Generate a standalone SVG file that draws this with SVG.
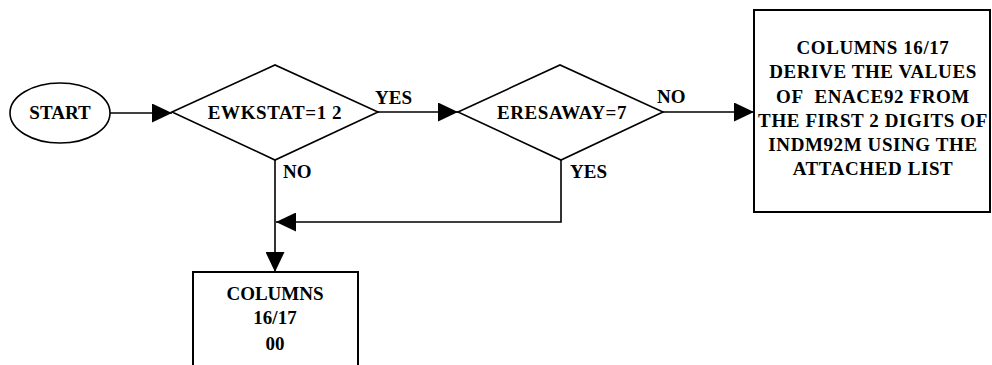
<svg xmlns="http://www.w3.org/2000/svg" width="992" height="365" viewBox="0 0 992 365">
  <defs>
    <style>
      .shape { fill: #fff; stroke: #000; stroke-width: 1.6; }
      .box { fill: #fff; stroke: #000; stroke-width: 2; }
      .wire { fill: none; stroke: #000; stroke-width: 1.6; }
      text { font-family: "Liberation Serif", "Times New Roman", serif; font-weight: bold; font-size: 19px; fill: #000; }
      .c { text-anchor: middle; }
      .wide { letter-spacing: 0.6px; }
    </style>
    <marker id="arrow" markerUnits="userSpaceOnUse" markerWidth="20" markerHeight="19" refX="20" refY="9.5" orient="auto">
      <path d="M0,0 L20,9.5 L0,19 Z" fill="#000"/>
    </marker>
  </defs>

  <rect width="992" height="365" fill="#fff"/>

  <!-- connectors -->
  <g id="connectors">
    <line class="wire" x1="110" y1="113" x2="172" y2="113" marker-end="url(#arrow)"/>
    <line class="wire" x1="378" y1="112" x2="458" y2="112" marker-end="url(#arrow)"/>
    <line class="wire" x1="663" y1="112" x2="754" y2="112" marker-end="url(#arrow)"/>
    <line class="wire" x1="275" y1="160" x2="275" y2="272" marker-end="url(#arrow)"/>
    <polyline class="wire" points="561,160 561,222 276,222" marker-end="url(#arrow)"/>
    <text x="375" y="104">YES</text>
    <text x="657" y="103">NO</text>
    <text x="283" y="178">NO</text>
    <text x="570" y="178">YES</text>
  </g>

  <!-- start terminal -->
  <g id="start">
    <ellipse class="shape" cx="60" cy="113" rx="50" ry="30"/>
    <text class="c" x="60" y="119">START</text>
  </g>

  <!-- decision: EWKSTAT -->
  <g id="ewkstat">
    <polygon class="shape" points="172,112 275,65 378,112 275,160"/>
    <text class="c wide" x="275" y="119">EWKSTAT=1 2</text>
  </g>

  <!-- decision: ERESAWAY -->
  <g id="eresaway">
    <polygon class="shape" points="458,112 560,65 663,112 561,160"/>
    <text class="c wide" x="562" y="119">ERESAWAY=7</text>
  </g>

  <!-- process: derive ENACE92 -->
  <g id="derive">
    <rect class="box" x="754" y="10" width="236" height="202"/>
    <text class="c wide" x="873" y="54">COLUMNS 16/17</text>
    <text class="c wide" x="873" y="78">DERIVE THE VALUES</text>
    <text class="c wide" x="873" y="103">OF&#160; ENACE92 FROM</text>
    <text class="c wide" x="873" y="127">THE FIRST 2 DIGITS OF</text>
    <text class="c wide" x="873" y="151">INDM92M USING THE</text>
    <text class="c wide" x="873" y="175">ATTACHED LIST</text>
  </g>

  <!-- process: columns set to 00 -->
  <g id="zero">
    <rect class="box" x="193" y="272" width="165" height="110"/>
    <text class="c" x="275" y="300">COLUMNS</text>
    <text class="c" x="275" y="324">16/17</text>
    <text class="c" x="275" y="350">00</text>
  </g>
</svg>
